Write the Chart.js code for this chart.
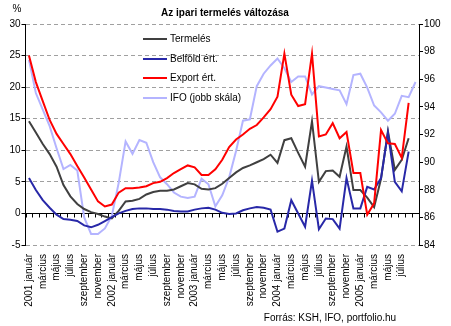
<!DOCTYPE html>
<html lang="hu">
<head>
<meta charset="utf-8">
<title>Az ipari termelés változása</title>
<script src="https://cdn.jsdelivr.net/npm/chart.js@4.4.1/dist/chart.umd.min.js"></script>
<style>
  html, body { margin: 0; padding: 0; background: #fff; }
  .chart-box { position: relative; width: 451px; height: 326px; }
</style>
</head>
<body>
<div class="chart-box"><canvas id="iparChart"></canvas></div>
<script>
// Hónapok: 2001 január ... 2005 szeptember
const kezdoEv = 2001;
const honapokSzama = 57;
const honapNevek = ['január', 'február', 'március', 'április', 'május', 'június',
    'július', 'augusztus', 'szeptember', 'október', 'november', 'december'];

// KSH, éves változás (%) - bal skála
const termeles = [14.6, 12.8, 11.0, 9.4, 7.4, 4.5, 2.7, 1.5, 0.7, 0.2,
    -0.1, -0.5, -0.8, 0.4, 1.9, 2.0, 2.3, 3.0, 3.4, 3.6,
    3.6, 3.8, 4.3, 4.8, 4.6, 3.9, 3.8, 4.0, 4.7, 5.6,
    6.5, 7.2, 7.6, 8.1, 8.6, 9.3, 8.0, 11.6, 11.9, 9.6,
    7.4, 14.6, 5.0, 6.7, 6.8, 5.8, 10.6, 3.7, 3.7, 2.5,
    1.0, 5.5, 13.0, 6.9, 8.5, 11.9];
const belfold = [5.6, 3.7, 2.1, 0.9, -0.2, -0.9, -1.0, -1.2, -1.9, -2.2,
    -1.8, -1.2, -0.6, 0.0, 0.4, 0.7, 0.8, 0.8, 0.7, 0.7,
    0.6, 0.4, 0.3, 0.3, 0.6, 0.8, 0.9, 0.6, 0.1, -0.1,
    0.0, 0.5, 0.8, 1.0, 0.9, 0.6, -2.9, -2.4, 2.1, 0.0,
    -2.1, 5.2, -2.5, -0.8, -0.9, -2.4, 5.6, 0.8, 0.8, 4.2,
    3.8, 5.6, 12.8, 5.0, 3.5, 9.8];
const exportErt = [25.0, 20.8, 17.8, 14.8, 12.6, 11.0, 9.4, 7.5, 5.7, 3.8,
    1.9, 1.1, 1.4, 3.3, 4.0, 4.0, 4.1, 4.3, 4.8, 5.0,
    5.6, 6.4, 7.0, 7.6, 7.3, 6.1, 6.1, 7.0, 8.5, 10.5,
    11.7, 12.5, 13.4, 14.0, 15.2, 16.5, 18.5, 25.3, 18.8, 17.0,
    17.3, 25.3, 12.2, 12.5, 14.3, 11.9, 12.9, 6.4, 6.4, -0.2,
    1.6, 13.2, 11.1, 11.0, 8.8, 17.5];

// IFO index - jobb skála
const ifo = [97.4, 95.0, 93.8, 92.6, 91.0, 89.5, 89.8, 89.4, 86.0, 84.8,
    84.8, 85.2, 86.1, 88.5, 91.5, 90.6, 91.6, 91.4, 90.0, 88.9,
    88.4, 87.8, 87.5, 87.4, 87.5, 88.8, 88.4, 86.8, 87.6, 88.9,
    90.8, 93.0, 93.1, 95.5, 96.4, 97.0, 97.5, 96.8, 95.8, 96.2,
    96.2, 94.9, 95.5, 95.4, 95.3, 95.2, 94.2, 96.3, 96.4, 95.4,
    94.1, 93.6, 93.0, 93.5, 94.8, 94.7, 95.8];

// Tengelyek osztásai
const balTickek = [-5, 0, 5, 10, 15, 20, 25, 30];
const jobbTickek = [84, 86, 88, 90, 92, 94, 96, 98, 100];
const utolsoFelirat = 54; // 2005 július

const kategoriak = [];
for (let i = 0; i < honapokSzama; i++) {
    const nev = honapNevek[i % 12];
    kategoriak.push(i % 12 === 0 ? (kezdoEv + i / 12) + ' ' + nev : nev);
}

const betu = 'Arial, "Liberation Sans", sans-serif';
Chart.defaults.font.family = betu;
Chart.defaults.font.size = 10;
Chart.defaults.color = '#000';

// Cím, jelmagyarázat, forrás és a 0-s tengely osztásai
const feliratok = {
    id: 'feliratok',
    beforeDatasetsDraw(chart) {
        const {ctx, scales: {x, y}} = chart;
        const y0 = Math.round(y.getPixelForValue(0)) + 0.5;
        const w = x.width / kategoriak.length;
        ctx.save();
        ctx.strokeStyle = '#000';
        ctx.lineWidth = 1;
        ctx.beginPath();
        for (let k = 0; k <= kategoriak.length; k++) {
            const px = Math.round(x.left + k * w) + 0.5;
            ctx.moveTo(px, y0);
            ctx.lineTo(px, y0 + 4);
        }
        ctx.stroke();
        ctx.restore();
    },
    afterDraw(chart) {
        const ctx = chart.ctx;
        ctx.save();
        ctx.fillStyle = '#000';
        ctx.textBaseline = 'middle';
        ctx.textAlign = 'center';
        ctx.font = 'bold 10px ' + betu;
        ctx.fillText('Az ipari termelés változása', 225, 13);
        ctx.font = '10px ' + betu;
        ctx.fillText('%', 17, 9);
        ctx.fillText('Forrás: KSH, IFO, portfolio.hu', 330, 318);

        ctx.textAlign = 'left';
        chart.data.datasets.forEach((ds, i) => {
            const ly = Math.round(39 + i * 19.5);
            ctx.strokeStyle = ds.borderColor;
            ctx.lineWidth = 2;
            ctx.beginPath();
            ctx.moveTo(143, ly);
            ctx.lineTo(167, ly);
            ctx.stroke();
            ctx.fillText(ds.label, 170, ly);
        });
        ctx.restore();
    }
};

const ctx = document.getElementById('iparChart').getContext('2d');
new Chart(ctx, {
    type: 'line',
    data: {
        labels: kategoriak,
        datasets: [
            { label: 'Termelés', data: termeles, borderColor: '#404040', yAxisID: 'y', order: 3 },
            { label: 'Belföld ért.', data: belfold, borderColor: '#2828a8', yAxisID: 'y', order: 2 },
            { label: 'Export ért.', data: exportErt, borderColor: '#ff0000', yAxisID: 'y', order: 1 },
            { label: 'IFO (jobb skála)', data: ifo, borderColor: '#b4b4ff', yAxisID: 'y2', order: 4 }
        ]
    },
    options: {
        responsive: true,
        maintainAspectRatio: false,
        animation: false,
        layout: { padding: { top: 24, left: 0, right: 0, bottom: 0 } },
        elements: {
            line: { borderWidth: 2, tension: 0, fill: false },
            point: { radius: 0 }
        },
        plugins: {
            legend: { display: false },
            tooltip: { enabled: false }
        },
        scales: {
            x: {
                type: 'category',
                offset: true,
                grid: { display: false, drawTicks: false },
                border: { display: false },
                ticks: {
                    autoSkip: false,
                    maxRotation: 90,
                    minRotation: 90,
                    padding: 9,
                    callback: function(val, index) {
                        return (index % 2 === 0 && index <= utolsoFelirat) ? this.getLabelForValue(val) : '';
                    }
                },
                afterFit: scale => { scale.height = 81; }
            },
            y: {
                position: 'left',
                min: balTickek[0],
                max: balTickek[balTickek.length - 1],
                afterBuildTicks: scale => { scale.ticks = balTickek.map(v => ({ value: v })); },
                grid: {
                    color: c => (c.tick && c.tick.value === 0) ? '#000' : '#a0a0a0',
                    tickColor: '#000',
                    tickLength: 4
                },
                border: {
                    color: '#000',
                    dash: c => (c.tick && c.tick.value !== 0) ? [4, 3] : []
                },
                ticks: { padding: 1 },
                afterFit: scale => { scale.width = 25.5; }
            },
            y2: {
                position: 'right',
                min: jobbTickek[0],
                max: jobbTickek[jobbTickek.length - 1],
                afterBuildTicks: scale => { scale.ticks = jobbTickek.map(v => ({ value: v })); },
                grid: { drawOnChartArea: false, tickColor: '#000', tickLength: 4 },
                border: { color: '#000' },
                ticks: { padding: 1 },
                afterFit: scale => { scale.width = 32; }
            }
        }
    },
    plugins: [feliratok]
});
</script>
</body>
</html>
